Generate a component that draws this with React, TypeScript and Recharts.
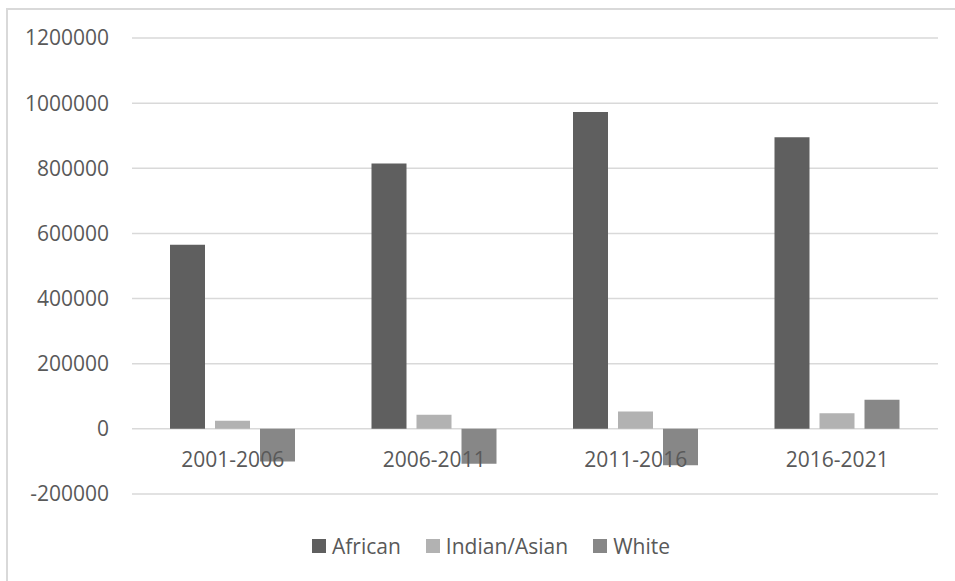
import React from 'react';
import { BarChart, Bar, XAxis, YAxis, CartesianGrid, Legend } from 'recharts';

// Population change per intercensal period, by population group
const categories = ['2001-2006', '2006-2011', '2011-2016', '2016-2021'];
const african = [565000, 815000, 973000, 895000];
const indianAsian = [25000, 43000, 53000, 48000];
const white = [-100000, -107000, -112000, 89000];
const yTicks = [-200000, 0, 200000, 400000, 600000, 800000, 1000000, 1200000];

const seriesNames = ['African', 'Indian/Asian', 'White'];
const seriesColors = ['#5f5f5f', '#b2b2b2', '#878787'];

const data = categories.map((period, i) => ({
  period,
  African: african[i],
  'Indian/Asian': indianAsian[i],
  White: white[i],
}));

const WIDTH = 955;
const HEIGHT = 581;
const MARGIN = { top: 38, right: 17, left: 0, bottom: 57 };
const X_AXIS_HEIGHT = 30;
const Y_MIN = yTicks[0];
const Y_MAX = yTicks[yTicks.length - 1];
const PLOT_HEIGHT = HEIGHT - MARGIN.top - MARGIN.bottom - X_AXIS_HEIGHT;

const TEXT_COLOR = '#595959';
const FONT = '"Open Sans", sans-serif';
const FONT_SIZE = 21;

// Category labels sit just under the zero line rather than at the bottom of the plot
const CategoryTick = (props: any) => {
  const { x, y, payload } = props;
  const zeroLift = (PLOT_HEIGHT * (0 - Y_MIN)) / (Y_MAX - Y_MIN);
  return (
    <text
      x={x}
      y={y - zeroLift + 38}
      textAnchor="middle"
      fill={TEXT_COLOR}
      fontSize={FONT_SIZE}
      fontFamily={FONT}
    >
      {payload.value}
    </text>
  );
};

const LegendContent = () => (
  <div
    style={{
      display: 'flex',
      justifyContent: 'center',
      alignItems: 'center',
      gap: 25,
      fontFamily: FONT,
      fontSize: FONT_SIZE,
      color: TEXT_COLOR,
      lineHeight: '28px',
    }}
  >
    {seriesNames.map((name, i) => (
      <div key={name} style={{ display: 'flex', alignItems: 'center' }}>
        <span
          style={{
            display: 'inline-block',
            width: 14,
            height: 14,
            background: seriesColors[i],
            marginRight: 6,
          }}
        />
        <span>{name}</span>
      </div>
    ))}
  </div>
);

export default function App() {
  return (
    <div
      style={{
        position: 'absolute',
        left: 0,
        top: 0,
        width: WIDTH,
        height: HEIGHT,
        overflow: 'hidden',
        background: '#ffffff',
      }}
    >
      <div
        style={{
          position: 'absolute',
          left: 6,
          top: 8,
          width: 2000,
          height: 2000,
          borderLeft: '2px solid #d9d9d9',
          borderTop: '2px solid #d9d9d9',
        }}
      />
      <div style={{ position: 'absolute', left: 0, top: 0 }}>
        <BarChart
          width={WIDTH}
          height={HEIGHT}
          data={data}
          margin={MARGIN}
          barSize={35}
          barGap={10}
          style={{ fontFamily: FONT }}
        >
          <CartesianGrid horizontal vertical={false} stroke="#d9d9d9" strokeWidth={1.5} />
          <YAxis
            width={132}
            domain={[Y_MIN, Y_MAX]}
            ticks={yTicks}
            interval={0}
            axisLine={false}
            tickLine={false}
            tickSize={0}
            tickMargin={23}
            tick={{ fill: TEXT_COLOR, fontSize: FONT_SIZE, fontFamily: FONT }}
          />
          {seriesNames.map((name, i) => (
            <Bar key={name} dataKey={name} fill={seriesColors[i]} isAnimationActive={false} />
          ))}
          <XAxis
            dataKey="period"
            height={X_AXIS_HEIGHT}
            axisLine={false}
            tickLine={false}
            tickSize={0}
            tickMargin={0}
            interval={0}
            tick={<CategoryTick />}
          />
          <Legend
            layout="horizontal"
            verticalAlign="middle"
            align="center"
            content={<LegendContent />}
            wrapperStyle={{ left: 0, top: 532, width: 982, height: 28 }}
          />
        </BarChart>
      </div>
    </div>
  );
}
